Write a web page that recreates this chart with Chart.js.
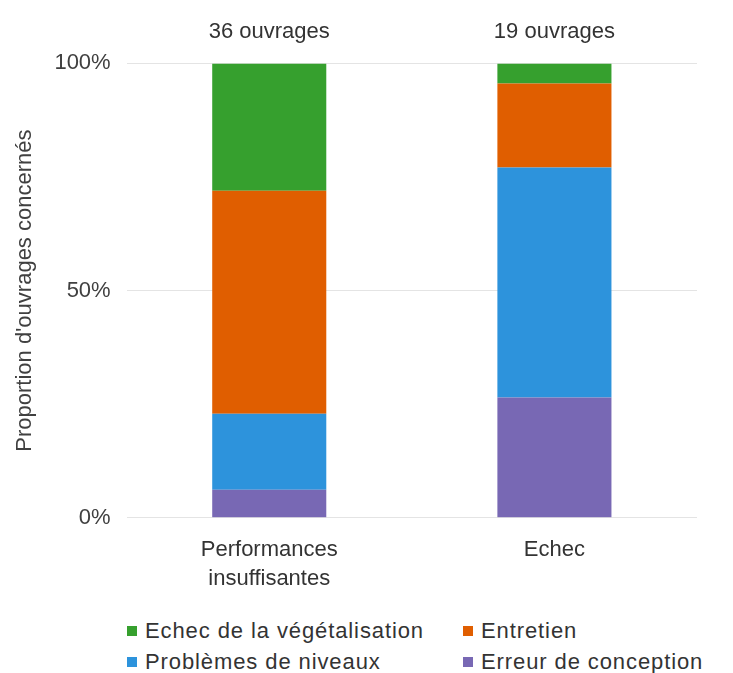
<!DOCTYPE html>
<html>
<head>
<meta charset="utf-8">
<script src="https://cdn.jsdelivr.net/npm/chart.js@4"></script>
<style>
  body { margin: 0; background: #fff; font-family: "Liberation Sans", Arial, sans-serif; }
  #wrap { width: 733px; height: 603px; position: relative; }
  #legend { display: grid; grid-template-columns: 336px 270px; margin-left: 127px; row-gap: 5px; margin-top: 15px; }
  .item { font-size: 22px; letter-spacing: 0.9px; color: #333; display: flex; align-items: center; white-space: nowrap; }
  .box { width: 10px; height: 10px; margin-right: 8px; display: inline-block; }
</style>
</head>
<body>
<div id="wrap"><canvas id="myChart"></canvas></div>
<div id="legend"></div>
<script>
var categories = [['Performances', 'insuffisantes'], 'Echec'];
var topLabels = ['36 ouvrages', '19 ouvrages'];
var erreurConception = [6.2, 26.5];
var problemesNiveaux = [16.7, 50.6];
var entretien = [49.1, 18.5];
var echecVegetalisation = [28.0, 4.4];
var yTicks = [0, 50, 100];

var ctx = document.getElementById('myChart').getContext('2d');
Chart.defaults.font.family = '"Liberation Sans", Arial, sans-serif';
Chart.defaults.color = '#404040';

var chart = new Chart(ctx, {
    type: 'bar',
    data: {
        labels: categories,
        datasets: [
            { label: 'Erreur de conception', data: erreurConception, backgroundColor: '#7868b4' },
            { label: 'Problèmes de niveaux', data: problemesNiveaux, backgroundColor: '#2d93dc' },
            { label: 'Entretien', data: entretien, backgroundColor: '#e05e00' },
            { label: 'Echec de la végétalisation', data: echecVegetalisation, backgroundColor: '#36a02e' }
        ]
    },
    options: {
        responsive: true,
        maintainAspectRatio: false,
        animation: false,
        layout: { padding: { top: 9, right: 36, left: 8, bottom: 0 } },
        datasets: { bar: { barPercentage: 0.4, categoryPercentage: 1 } },
        plugins: {
            legend: { display: false },
            tooltip: { enabled: false }
        },
        scales: {
            x: {
                stacked: true,
                grid: { display: false },
                border: { display: false },
                ticks: { font: { size: 22, lineHeight: 1.3 }, color: '#333', padding: 10 }
            },
            xTop: {
                position: 'top',
                type: 'category',
                labels: topLabels,
                grid: { display: false },
                border: { display: false },
                ticks: { font: { size: 22 }, color: '#333', padding: 10 }
            },
            y: {
                stacked: true,
                min: 0,
                max: 100,
                afterBuildTicks: function (axis) {
                    axis.ticks = yTicks.map(function (v) { return { value: v }; });
                },
                grid: { color: '#e4e4e4', drawTicks: false },
                border: { display: false },
                ticks: {
                    font: { size: 22 },
                    color: '#404040',
                    padding: 16,
                    callback: function (v) { return v + '%'; }
                },
                title: {
                    display: true,
                    text: "Proportion d'ouvrages concernés",
                    font: { size: 22 },
                    color: '#404040',
                    padding: { bottom: 0 }
                }
            }
        }
    }
});

var legendOrder = [3, 2, 1, 0];
var legendEl = document.getElementById('legend');
legendOrder.forEach(function (i) {
    var ds = chart.data.datasets[i];
    var div = document.createElement('div');
    div.className = 'item';
    div.innerHTML = '<span class="box" style="background:' + ds.backgroundColor + '"></span>' + ds.label;
    legendEl.appendChild(div);
});
</script>
</body>
</html>
